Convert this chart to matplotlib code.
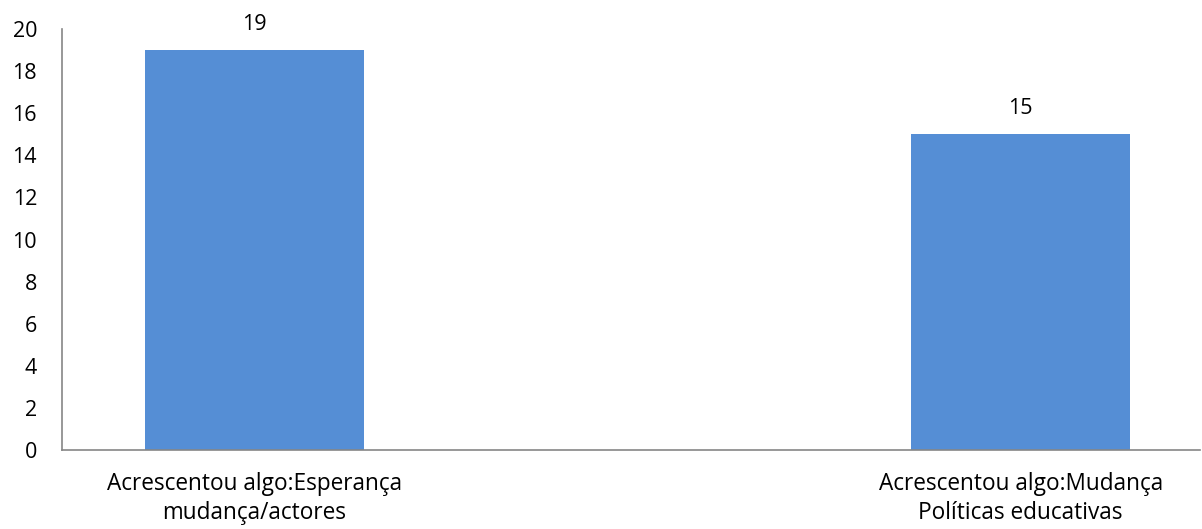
import matplotlib
matplotlib.use("Agg")
import matplotlib.pyplot as plt

categories = ["Acrescentou algo:Esperança\nmudança/actores",
              "Acrescentou algo:Mudança\nPolíticas educativas"]
values = [19, 15]
yticks = list(range(0, 21, 2))

bar_color = "#558ED5"
axis_color = "#868686"
plt.rcParams["font.family"] = ["Open Sans", "DejaVu Sans"]
fs = 15.5
fs_cat = 16.3

fig = plt.figure(figsize=(12.02, 5.29), dpi=100)
ax = fig.add_axes([62 / 1202, 1 - 450 / 529, (1200 - 62) / 1202, (450 - 29) / 529])

x = list(range(len(categories)))
ax.bar(x, values, width=0.286, color=bar_color)
for xi, v in zip(x, values):
    ax.annotate(str(v), (xi, v), xytext=(0, 11), textcoords="offset points",
                ha="center", va="bottom", fontsize=fs)

ax.set_xlim(-0.251, 1.234)
ax.set_ylim(0, 20)
ax.set_yticks(yticks)
ax.set_xticks(x)
ax.set_xticklabels(categories, fontsize=fs_cat, linespacing=1.28)
ax.tick_params(axis="y", length=0, pad=18, labelsize=fs)
ax.tick_params(axis="x", length=0, pad=16)

for s in ("top", "right"):
    ax.spines[s].set_visible(False)
for s in ("left", "bottom"):
    ax.spines[s].set_color(axis_color)
    ax.spines[s].set_linewidth(1.2)

fig.savefig("out.png", dpi=100)
